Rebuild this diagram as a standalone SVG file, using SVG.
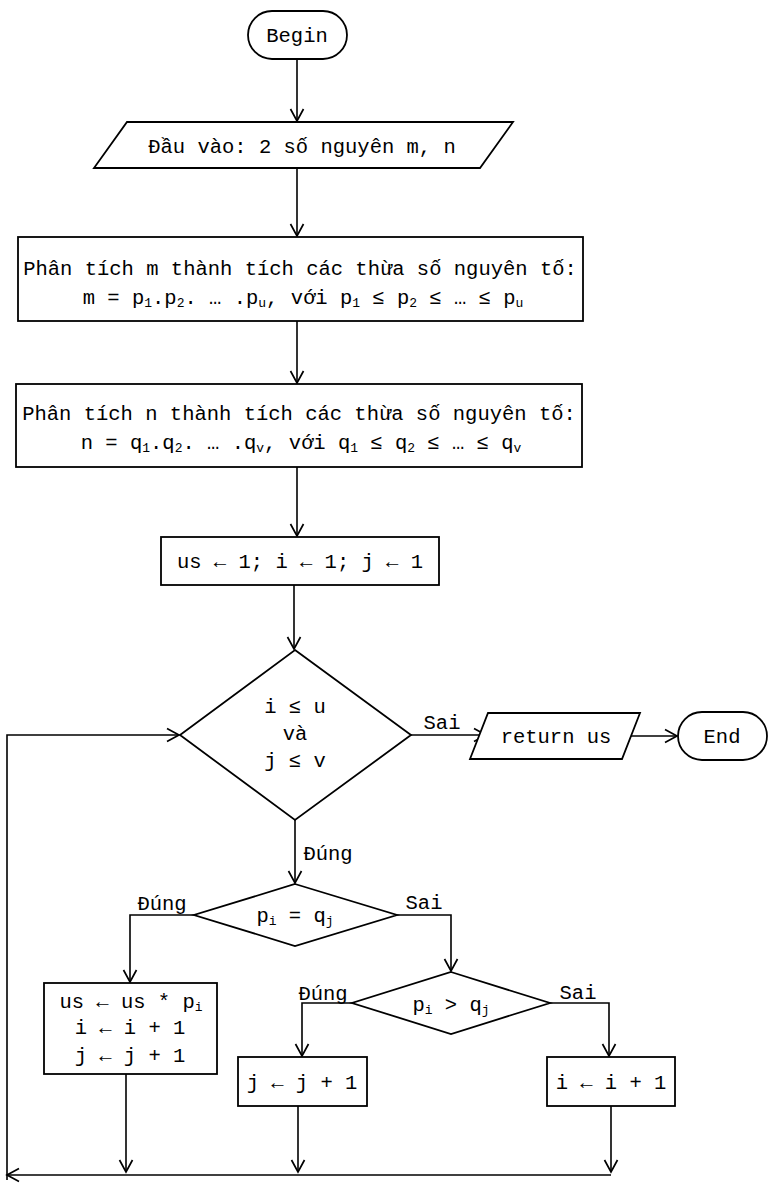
<svg xmlns="http://www.w3.org/2000/svg" width="770" height="1190" viewBox="0 0 770 1190">
<style>
.s{fill:#fff;stroke:#000;stroke-width:1.8}
.c{fill:none;stroke:#000;stroke-width:1.6}
text{font-family:"Liberation Mono","DejaVu Sans Mono",monospace;font-size:20.5px;fill:#000;text-anchor:middle}
.sub{font-size:13px}
</style>
<defs>
<marker id="a" markerWidth="16" markerHeight="16" refX="13" refY="8" orient="auto" markerUnits="userSpaceOnUse">
<path d="M1,1.5 L13,8 L1,14.5" fill="none" stroke="#000" stroke-width="1.7"/>
</marker>
</defs>
<g id="connectors">
<path class="c" d="M297,59 V121" marker-end="url(#a)"/>
<path class="c" d="M297,168 V236" marker-end="url(#a)"/>
<path class="c" d="M297,321 V383" marker-end="url(#a)"/>
<path class="c" d="M297,467 V536" marker-end="url(#a)"/>
<path class="c" d="M294,585 V649" marker-end="url(#a)"/>
<path class="c" d="M411,735 H486" marker-end="url(#a)"/>
<path class="c" d="M630,736 H677" marker-end="url(#a)"/>
<path class="c" d="M295,820 V883" marker-end="url(#a)"/>
<path class="c" d="M194,915 H130 V982" marker-end="url(#a)"/>
<path class="c" d="M397,915 H451 V971" marker-end="url(#a)"/>
<path class="c" d="M352,1003 H302 V1056" marker-end="url(#a)"/>
<path class="c" d="M550,1003 H609 V1056" marker-end="url(#a)"/>
<path class="c" d="M126,1074 V1172" marker-end="url(#a)"/>
<path class="c" d="M298,1106 V1172" marker-end="url(#a)"/>
<path class="c" d="M611,1106 V1172" marker-end="url(#a)"/>
<path class="c" d="M611,1175 H7" marker-end="url(#a)"/>
<path class="c" d="M7,1180 V735 H179" marker-end="url(#a)"/>
<text x="442" y="729">Sai</text>
<text x="328" y="860">Đúng</text>
<text x="162" y="910">Đúng</text>
<text x="424" y="909">Sai</text>
<text x="323" y="1000">Đúng</text>
<text x="578" y="999">Sai</text>
</g>
<g id="begin">
<rect class="s" x="248" y="11" width="99" height="48" rx="24"/>
<text x="297" y="42">Begin</text>
</g>
<g id="input">
<polygon class="s" points="127,122 513,122 480,168 94,168"/>
<text x="302" y="153">Đầu vào: 2 số nguyên m, n</text>
</g>
<g id="factor-m">
<rect class="s" x="18" y="237" width="565" height="84"/>
<text x="300" y="275">Phân tích m thành tích các thừa số nguyên tố:</text>
<text x="303" y="304">m = p<tspan class="sub" dy="3">1</tspan><tspan dy="-3">.p</tspan><tspan class="sub" dy="3">2</tspan><tspan dy="-3">. … .p</tspan><tspan class="sub" dy="3">u</tspan><tspan dy="-3">, với p</tspan><tspan class="sub" dy="3">1</tspan><tspan dy="-3"> ≤ p</tspan><tspan class="sub" dy="3">2</tspan><tspan dy="-3"> ≤ … ≤ p</tspan><tspan class="sub" dy="3">u</tspan></text>
</g>
<g id="factor-n">
<rect class="s" x="16" y="384" width="566" height="83"/>
<text x="299" y="420">Phân tích n thành tích các thừa số nguyên tố:</text>
<text x="301" y="449">n = q<tspan class="sub" dy="3">1</tspan><tspan dy="-3">.q</tspan><tspan class="sub" dy="3">2</tspan><tspan dy="-3">. … .q</tspan><tspan class="sub" dy="3">v</tspan><tspan dy="-3">, với q</tspan><tspan class="sub" dy="3">1</tspan><tspan dy="-3"> ≤ q</tspan><tspan class="sub" dy="3">2</tspan><tspan dy="-3"> ≤ … ≤ q</tspan><tspan class="sub" dy="3">v</tspan></text>
</g>
<g id="init">
<rect class="s" x="161" y="537" width="278" height="48"/>
<text x="300" y="568">us ← 1; i ← 1; j ← 1</text>
</g>
<g id="cond-loop">
<polygon class="s" points="295,650 411,735 295,820 180,735"/>
<text x="295" y="713">i ≤ u</text>
<text x="295" y="740">và</text>
<text x="295" y="767">j ≤ v</text>
</g>
<g id="return">
<polygon class="s" points="488,713 640,713 622,759 470,759"/>
<text x="556" y="743">return us</text>
</g>
<g id="end">
<rect class="s" x="678" y="712" width="89" height="48" rx="24"/>
<text x="722" y="743">End</text>
</g>
<g id="cond-eq">
<polygon class="s" points="295,884 397,915 295,946 194,915"/>
<text x="295" y="922">p<tspan class="sub" dy="3">i</tspan><tspan dy="-3"> = q</tspan><tspan class="sub" dy="3">j</tspan></text>
</g>
<g id="mult">
<rect class="s" x="44" y="983" width="173" height="91"/>
<text x="131" y="1008">us ← us * p<tspan class="sub" dy="3">i</tspan></text>
<text x="130" y="1034">i ← i + 1</text>
<text x="130" y="1062">j ← j + 1</text>
</g>
<g id="cond-gt">
<polygon class="s" points="451,972 550,1003 451,1034 352,1003"/>
<text x="451" y="1011">p<tspan class="sub" dy="3">i</tspan><tspan dy="-3"> &gt; q</tspan><tspan class="sub" dy="3">j</tspan></text>
</g>
<g id="inc-j">
<rect class="s" x="238" y="1057" width="129" height="49"/>
<text x="302" y="1089">j ← j + 1</text>
</g>
<g id="inc-i">
<rect class="s" x="547" y="1057" width="128" height="49"/>
<text x="611" y="1089">i ← i + 1</text>
</g>
</svg>
